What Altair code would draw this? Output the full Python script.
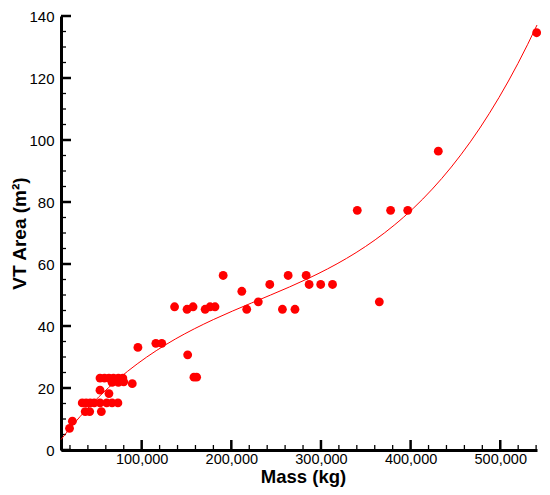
import altair as alt
import pandas as pd

# Aircraft mass (kg) and vertical tail area (m^2)
mass = [19500, 22700,
        33700, 38000, 42500, 47000, 53500, 61000, 67000, 73500,
        37000, 42000, 55000,
        53500, 63500,
        53500, 58500, 63500, 68500, 74000, 79000,
        67000, 74000, 80000, 89500,
        95800, 115800, 122400, 136700, 150600, 157300, 170800, 176300, 181800,
        190900, 151300, 158300, 161300, 211700, 217200, 230100, 242900,
        257000, 263400, 271000, 283500, 286800, 299700, 312900,
        365100, 340500, 377700, 396800, 430900, 540600]
area = [7.0, 9.3,
        15.2, 15.2, 15.2, 15.2, 15.2, 15.2, 15.2, 15.2,
        12.4, 12.4, 12.4,
        19.3, 18.2,
        23.2, 23.2, 23.2, 23.2, 23.2, 23.2,
        21.8, 21.8, 22.0, 21.4,
        33.1, 34.4, 34.4, 46.2, 45.4, 46.2, 45.4, 46.2, 46.2,
        56.3, 30.7, 23.5, 23.5, 51.2, 45.4, 47.8, 53.4,
        45.4, 56.3, 45.4, 56.3, 53.4, 53.4, 53.4,
        47.8, 77.3, 77.3, 77.3, 96.4, 134.6]

x_major = [100000, 200000, 300000, 400000, 500000]
x_minor = [v for v in range(20000, 541000, 20000) if v % 100000 != 0]
y_major = [0, 20, 40, 60, 80, 100, 120, 140]
y_minor = [v for v in range(5, 141, 5) if v % 20 != 0]

W, H = 476, 434
FONT = "Liberation Sans"

df = pd.DataFrame({"mass": mass, "area": area})

xscale = alt.Scale(domain=[10000, 541000], nice=False, zero=False)
yscale = alt.Scale(domain=[0, 140], nice=False, zero=False)

xaxis = alt.Axis(values=x_major, format=",.0f", title="Mass (kg)", ticks=False,
                 tickSize=0, grid=False, domainColor="black", domainWidth=3,
                 labelFont=FONT, labelFontSize=14.5, labelColor="black", labelPadding=2,
                 titleFont=FONT, titleFontSize=18.5, titleFontWeight="bold",
                 titleColor="black", titleX=242, titleY=32,
                 titleBaseline="alphabetic", titleAlign="center")
yaxis = alt.Axis(values=y_major, title="VT Area (m²)", ticks=False, tickSize=0,
                 grid=False, domainColor="black", domainWidth=3,
                 labelFont=FONT, labelFontSize=15, labelColor="black", labelPadding=7,
                 titleFont=FONT, titleFontSize=19, titleFontWeight="bold",
                 titleColor="black", titleX=-36, titleY=H / 2, titleAngle=-90,
                 titleBaseline="alphabetic", titleAlign="center")

points = alt.Chart(df).mark_circle(color="#ff0000", opacity=1, size=78).encode(
    x=alt.X("mass:Q", scale=xscale, axis=xaxis),
    y=alt.Y("area:Q", scale=yscale, axis=yaxis),
)

fit = alt.Chart(df).transform_regression(
    "mass", "area", method="poly", order=3, extent=[10000, 541000]
).mark_line(color="#ff0000", strokeWidth=1).encode(
    x=alt.X("mass:Q", scale=xscale, axis=xaxis),
    y=alt.Y("area:Q", scale=yscale, axis=yaxis),
)

def xticks(vals, length, width):
    return alt.Chart(pd.DataFrame({"mass": vals})).mark_rule(
        color="black", strokeWidth=width).encode(
        x=alt.X("mass:Q", scale=xscale, axis=xaxis),
        y=alt.value(H), y2=alt.value(H - length))

def yticks(vals, length, width):
    return alt.Chart(pd.DataFrame({"area": vals})).mark_rule(
        color="black", strokeWidth=width).encode(
        y=alt.Y("area:Q", scale=yscale, axis=yaxis),
        x=alt.value(0), x2=alt.value(length))

chart = alt.layer(
    xticks(x_minor, 5, 1.3), xticks(x_major, 10, 2.5),
    yticks(y_minor, 5, 1.3), yticks(y_major, 10, 2.5),
    fit, points,
).properties(
    width=W, height=H,
    autosize=alt.AutoSizeParams(type="none"),
    padding={"left": 53, "top": 8, "right": 5, "bottom": 37},
    background="white",
).configure_view(stroke=None)

chart.save("out.html", embed_options={"renderer": "svg", "actions": False})
